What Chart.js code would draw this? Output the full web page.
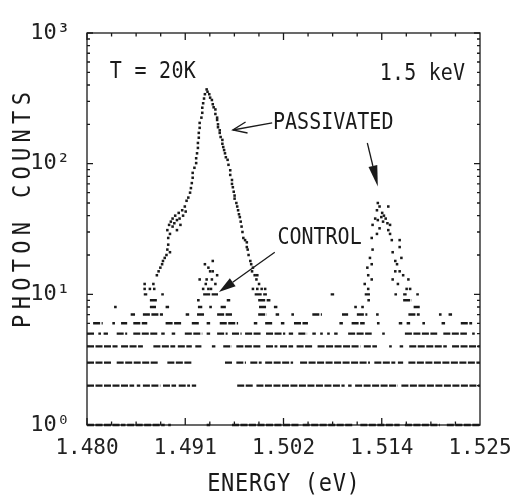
<!DOCTYPE html>
<html>
<head>
<meta charset="utf-8">
<title>Photon counts vs energy</title>
<script src="https://cdn.jsdelivr.net/npm/chart.js@4.4.1/dist/chart.umd.min.js"></script>
<style>
html,body{margin:0;padding:0;background:#ffffff;}
#box{position:relative;width:510px;height:502px;}
</style>
</head>
<body>
<div id="box"><canvas id="chart" width="510" height="502"></canvas></div>
<script>
// ---------- axis ticks ----------
const xTickValues = [1.480, 1.49125, 1.5025, 1.51375, 1.525];
const xTickLabels = ['1.480', '1.491', '1.502', '1.514', '1.525'];
const yTickValues = [1, 10, 100, 1000];
const yTickLabels = ['10\u2070', '10\u00B9', '10\u00B2', '10\u00B3'];

// ---------- low-count channels: runs of energies [from, to] (eV) sitting at each integer count ----------
const count1Runs = [[1.4800,1.4844],[1.4846,1.4889],[1.4893,1.4896],[1.4937,1.4941],[1.4966,1.5044],[1.5047,1.5105],[1.5113,1.5158],[1.5164,1.5204],[1.5212,1.5250]];
const count2Runs = [[1.4800,1.4854],[1.4857,1.4861],[1.4864,1.4884],[1.4887,1.4902],[1.4905,1.4918],[1.4920,1.4925],[1.4972,1.4990],[1.4994,1.5095],[1.5099,1.5103],[1.5107,1.5156],[1.5160,1.5250]];
const count3Runs = [[1.4800,1.4829],[1.4834,1.4881],[1.4892,1.4920],[1.4958,1.4966],[1.4971,1.4982],[1.4987,1.5000],[1.5004,1.5036],[1.5044,1.5124],[1.5129,1.5153],[1.5156,1.5162],[1.5168,1.5250]];
const count4Runs = [[1.4800,1.4835],[1.4839,1.4864],[1.4876,1.4901],[1.4904,1.4920],[1.4924,1.4931],[1.4943,1.4947],[1.4956,1.4966],[1.4971,1.5000],[1.5005,1.5018],[1.5021,1.5036],[1.5040,1.5059],[1.5064,1.5113],[1.5117,1.5132],[1.5146,1.5149],[1.5158,1.5162],[1.5169,1.5212],[1.5218,1.5250]];
const count5Runs = [[1.4800,1.4809],[1.4813,1.4816],[1.4819,1.4824],[1.4834,1.4846],[1.4853,1.4881],[1.4885,1.4889],[1.4897,1.4901],[1.4912,1.4932],[1.4937,1.4941],[1.4949,1.4961],[1.4966,1.4977],[1.4981,1.5000],[1.5005,1.5027],[1.5031,1.5036],[1.5042,1.5052],[1.5058,1.5062],[1.5067,1.5070],[1.5075,1.5078],[1.5083,1.5087],[1.5099,1.5126],[1.5138,1.5141],[1.5164,1.5201],[1.5208,1.5235],[1.5241,1.5244]];
const count6Runs = [[1.4807,1.4818],[1.4829,1.4832],[1.4839,1.4846],[1.4853,1.4869],[1.4890,1.4908],[1.4920,1.4929],[1.4937,1.4941],[1.4952,1.4973],[1.4991,1.4995],[1.5004,1.5013],[1.5022,1.5026],[1.5037,1.5053],[1.5089,1.5093],[1.5103,1.5118],[1.5132,1.5135],[1.5157,1.5161],[1.5166,1.5170],[1.5184,1.5187],[1.5206,1.5210],[1.5228,1.5241]];
const count7Runs = [[1.4850,1.4855],[1.4864,1.4887],[1.4913,1.4917],[1.4926,1.4935],[1.4949,1.4966],[1.4996,1.5006],[1.5016,1.5020],[1.5034,1.5037],[1.5058,1.5069],[1.5092,1.5099],[1.5109,1.5121],[1.5131,1.5134],[1.5168,1.5181],[1.5203,1.5206],[1.5214,1.5218]];
const count8Runs = [[1.4831,1.4834],[1.4872,1.4879],[1.4890,1.4894],[1.4927,1.4932],[1.4940,1.4943],[1.4953,1.4959],[1.4997,1.5006],[1.5014,1.5018],[1.5106,1.5109],[1.5114,1.5117],[1.5174,1.5181]];
const count9Runs = [[1.4872,1.4880],[1.4926,1.4929],[1.4960,1.4964],[1.4996,1.5010],[1.5121,1.5124],[1.5162,1.5172]];
const count10Runs = [[1.4865,1.4869],[1.4885,1.4888],[1.4933,1.4950],[1.4992,1.5006],[1.5079,1.5083],[1.5118,1.5124],[1.5152,1.5155],[1.5162,1.5166],[1.5177,1.5180]];
const rowLevels = [1, 2, 3, 4, 5, 6, 7, 8, 9, 10];
const rowRuns = [count1Runs, count2Runs, count3Runs, count4Runs, count5Runs, count6Runs, count7Runs, count8Runs, count9Runs, count10Runs];

// ---------- passivated sample: [energy eV, counts] ----------
const passivatedPoints = [
  [1.4866,11],[1.4872,11],[1.4877,11],[1.4866,12],[1.4876,12],[1.4880,14],[1.4882,15],[1.4884,16],[1.4886,17],[1.4887,18],[1.4889,19],[1.4891,20],[1.4892,22],[1.4895,21],[1.4893,24],[1.4893,27],
  [1.4892,31],[1.4894,34],[1.4896,36],[1.4895,29],[1.4898,33],[1.4898,38],[1.4900,35],[1.4901,40],[1.4903,37],[1.4903,31],[1.4905,42],[1.4906,38],[1.4907,34],[1.4909,44],[1.4910,40],[1.4912,47],[1.4913,43],
  [1.4914,52],[1.4916,55],[1.4918,60],[1.4919,65],[1.4920,71],[1.4921,78],[1.4921,85],[1.4923,93],[1.4925,101],[1.4925,110],[1.4926,120],[1.4927,132],[1.4927,144],[1.4928,158],[1.4928,172],[1.4929,188],[1.4929,205],[1.4931,225],[1.4932,245],[1.4932,268],[1.4933,290],[1.4934,315],[1.4935,340],[1.4937,370],[1.4938,355],
  [1.4940,340],[1.4941,320],[1.4943,307],[1.4944,285],[1.4945,270],[1.4947,260],[1.4947,240],[1.4949,225],[1.4949,216],[1.4950,200],[1.4950,190],[1.4952,180],[1.4952,172],[1.4953,160],[1.4955,152],[1.4955,142],[1.4956,134],[1.4957,127],[1.4958,120],[1.4959,112],[1.4961,107],[1.4962,98],[1.4964,89],[1.4964,82],[1.4966,75],[1.4966,70],[1.4967,66],[1.4968,61],[1.4969,57],[1.4969,54],[1.4971,50],[1.4972,47],[1.4973,44],[1.4974,41],[1.4975,39],[1.4976,36],[1.4977,33],[1.4978,30],[1.4979,27],[1.4981,26],[1.4983,25],[1.4983,23],[1.4984,22],[1.4985,20],[1.4987,18],[1.4988,17],[1.4989,15],[1.4990,16],[1.4992,14],[1.4995,14],[1.4994,13],[1.4997,12],[1.4990,11],[1.4995,11],[1.5000,11],[1.5004,11],
  [1.5135,47],[1.5132,44],[1.5138,42],[1.5145,47],[1.5130,38],[1.5133,37],[1.5139,36],[1.5144,35],[1.5147,34],[1.5127,34],[1.5135,32],[1.5145,31],[1.5132,29],[1.5147,29],[1.5126,27],[1.5149,26],[1.5158,26],[1.5127,22],[1.5158,23],[1.5150,21],[1.5160,19],[1.5126,17],[1.5155,17],[1.5153,15],[1.5158,15],[1.5122,14],[1.5126,13],[1.5150,13],[1.5156,12],[1.5166,11],[1.5118,12],
  [1.5133,50],[1.5140,40],[1.5137,39],[1.5142,38],[1.5124,19],[1.5121,16],[1.5162,14],[1.5153,18],[1.5168,13],[1.5122,11],[1.5170,11]
];

// ---------- control sample: [energy eV, counts] ----------
const controlPoints = [
  [1.4929,13],[1.4933,11],[1.4935,17],[1.4937,13],[1.4939,16],[1.4939,11],[1.4941,15],[1.4943,13],[1.4944,18],[1.4944,15],[1.4947,12],[1.4949,14],[1.4936,12],[1.4942,11]
];

const FONT = '"DejaVu Sans Mono", "Liberation Mono", monospace';
const INK = '#1a1a1a';

function runsToLine(runs, level) {
  const out = [];
  runs.forEach(([a, b]) => { out.push({x: a, y: level}, {x: b, y: level}, {x: b, y: null}); });
  return out;
}

const datasets = [];
rowRuns.forEach((runs, i) => datasets.push({
  label: 'channels at ' + rowLevels[i] + ' counts',
  data: runsToLine(runs, rowLevels[i]),
  showLine: true, spanGaps: false, pointRadius: 0,
  borderColor: INK, borderWidth: 2.4, borderDash: [7, 1.5], clip: false
}));
datasets.push({
  label: 'PASSIVATED', data: passivatedPoints.map(([e, c]) => ({x: e, y: c})),
  showLine: false, pointStyle: 'rect', pointRadius: 1.8, pointBorderWidth: 0,
  pointBackgroundColor: INK, clip: false
});
datasets.push({
  label: 'CONTROL', data: controlPoints.map(([e, c]) => ({x: e, y: c})),
  showLine: false, pointStyle: 'rect', pointRadius: 1.8, pointBorderWidth: 0,
  pointBackgroundColor: INK, clip: false
});

function drawText(ctx, s, x, y, size, align, sy, spacing) {
  ctx.save();
  ctx.translate(x, y);
  ctx.scale(1, sy);
  ctx.font = size + 'px ' + FONT;
  ctx.textBaseline = 'middle';
  if (!spacing) {
    ctx.textAlign = align;
    ctx.fillText(s, 0, 0);
  } else {
    const adv = ctx.measureText('M').width + spacing;
    const total = adv * s.length - spacing;
    const start = align === 'center' ? -total / 2 : (align === 'right' ? -total : 0);
    ctx.textAlign = 'left';
    for (let i = 0; i < s.length; i++) ctx.fillText(s[i], start + i * adv, 0);
  }
  ctx.restore();
}

function solidArrow(ctx, x0, y0, x1, y1, len, w) {
  const a = Math.atan2(y1 - y0, x1 - x0);
  const bx = x1 - len * Math.cos(a), by = y1 - len * Math.sin(a);
  ctx.beginPath(); ctx.moveTo(x0, y0); ctx.lineTo(bx, by); ctx.stroke();
  ctx.beginPath();
  ctx.moveTo(x1, y1);
  ctx.lineTo(bx + w / 2 * Math.sin(a), by - w / 2 * Math.cos(a));
  ctx.lineTo(bx - w / 2 * Math.sin(a), by + w / 2 * Math.cos(a));
  ctx.closePath(); ctx.fill();
}

function openArrow(ctx, x0, y0, x1, y1, len, spread) {
  const a = Math.atan2(y0 - y1, x0 - x1);
  ctx.beginPath(); ctx.moveTo(x0, y0); ctx.lineTo(x1, y1); ctx.stroke();
  ctx.beginPath();
  ctx.moveTo(x1 + len * Math.cos(a + spread), y1 + len * Math.sin(a + spread));
  ctx.lineTo(x1, y1);
  ctx.lineTo(x1 + len * Math.cos(a - spread), y1 + len * Math.sin(a - spread));
  ctx.stroke();
}

const framePlugin = {
  id: 'frame',
  afterDatasetsDraw(chart) {
    const {ctx, chartArea: a, scales: {x, y}} = chart;
    ctx.save();
    ctx.strokeStyle = INK;
    ctx.lineWidth = 1.3;
    ctx.strokeRect(a.left, a.top, a.right - a.left, a.bottom - a.top);
    ctx.beginPath();
    for (let i = 0; i < xTickValues.length - 1; i++) {
      const v0 = xTickValues[i], v1 = xTickValues[i + 1];
      for (let j = 0; j < 4; j++) {
        const px = x.getPixelForValue(v0 + (v1 - v0) * j / 4);
        const len = j === 0 ? 7 : 3.5;
        ctx.moveTo(px, a.bottom); ctx.lineTo(px, a.bottom - len);
        ctx.moveTo(px, a.top); ctx.lineTo(px, a.top + len);
      }
    }
    yTickValues.forEach(base => {
      for (let m = 1; m <= 9; m++) {
        const v = base * m;
        if (v > 1000) break;
        const py = y.getPixelForValue(v);
        const len = m === 1 ? 6 : 3;
        ctx.moveTo(a.left, py); ctx.lineTo(a.left + len, py);
        ctx.moveTo(a.right, py); ctx.lineTo(a.right - len, py);
      }
    });
    ctx.stroke();
    ctx.restore();
  }
};

const notesPlugin = {
  id: 'notes',
  afterDraw(chart) {
    const {ctx, chartArea: a, scales: {x, y}} = chart;
    const X = v => x.getPixelForValue(v), Y = v => y.getPixelForValue(v);
    ctx.save();
    ctx.fillStyle = INK;
    ctx.strokeStyle = INK;
    ctx.lineWidth = 1.3;
    drawText(ctx, 'T = 20K', X(1.4826), Y(502), 20, 'left', 1.13, 0.3);
    drawText(ctx, '1.5 keV', X(1.5233), Y(485), 20, 'right', 1.13, 0.2);
    drawText(ctx, 'PASSIVATED', X(1.5013), Y(205), 20, 'left', 1.13, 0);
    drawText(ctx, 'CONTROL', X(1.5018), Y(27), 20, 'left', 1.13, 0);
    openArrow(ctx, X(1.5012), Y(205), X(1.4967), Y(181), 15, 0.38);
    solidArrow(ctx, X(1.5121), Y(144), X(1.5133), Y(67), 21, 9);
    solidArrow(ctx, X(1.5015), Y(21), X(1.4951), Y(10.4), 17, 10);
    // axis titles
    drawText(ctx, 'ENERGY (eV)', (a.left + a.right) / 2, 485, 22, 'center', 1.12, 0.7);
    ctx.save();
    ctx.translate(24, 210);
    ctx.rotate(-Math.PI / 2);
    drawText(ctx, 'PHOTON COUNTS', 0, 0, 22, 'center', 1.12, 5.3);
    ctx.restore();
    ctx.restore();
  }
};

new Chart(document.getElementById('chart'), {
  type: 'scatter',
  data: {datasets},
  options: {
    responsive: false,
    animation: false,
    events: [],
    layout: {padding: {left: 0, top: 33, right: 30, bottom: 0}},
    plugins: {legend: {display: false}, tooltip: {enabled: false}},
    scales: {
      x: {
        type: 'linear', min: 1.48, max: 1.525,
        afterBuildTicks: s => { s.ticks = xTickValues.map(v => ({value: v})); },
        afterFit: s => { s.height = 77; s.paddingLeft = 0; s.paddingRight = 0; },
        grid: {display: false}, border: {display: false},
        ticks: {
          autoSkip: false, maxRotation: 0, padding: 3, color: '#222',
          font: {family: FONT, size: 21},
          callback: (v, i) => { const k = xTickValues.indexOf(v); return xTickLabels[k >= 0 ? k : i]; }
        }
      },
      y: {
        type: 'logarithmic', min: 1, max: 1000,
        afterBuildTicks: s => { s.ticks = yTickValues.map(v => ({value: v})); },
        afterFit: s => { s.width = 87; s.paddingTop = 0; s.paddingBottom = 0; },
        grid: {display: false}, border: {display: false},
        ticks: {
          autoSkip: false, padding: 9, color: '#222',
          font: {family: FONT, size: 22},
          callback: (v, i) => { const k = yTickValues.indexOf(v); return yTickLabels[k >= 0 ? k : i]; }
        }
      }
    }
  },
  plugins: [framePlugin, notesPlugin]
});
</script>
</body>
</html>
